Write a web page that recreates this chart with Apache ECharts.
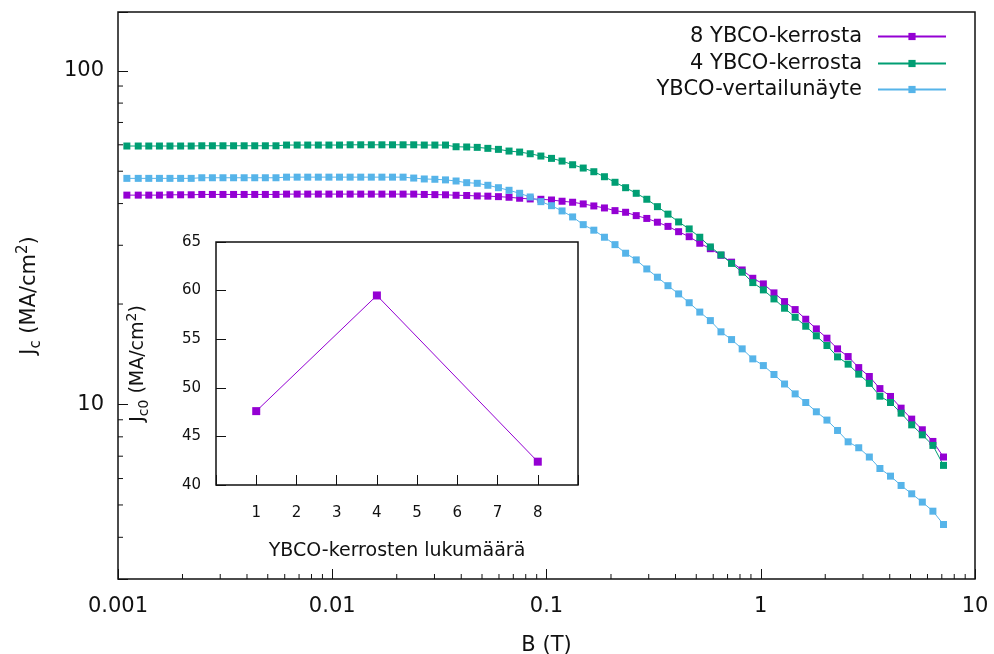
<!DOCTYPE html>
<html>
<head>
<meta charset="utf-8">
<script src="https://cdn.jsdelivr.net/npm/echarts@6/dist/echarts.min.js"></script>
<style>html,body{margin:0;padding:0;background:#fff}#c{width:994px;height:654px}</style>
</head>
<body>
<div id="c"></div>
<script>
// ---- data ----
const fieldB = [0.0011, 0.001243, 0.001392, 0.001561, 0.001748, 0.00196, 0.002196, 0.002461, 0.002758, 0.00309,
  0.003463, 0.00388, 0.004347, 0.004873, 0.005462, 0.006119, 0.006858, 0.007684, 0.008611, 0.009649,
  0.01081, 0.01212, 0.01358, 0.01522, 0.01705, 0.01911, 0.02141, 0.024, 0.02689, 0.03013,
  0.03377, 0.03784, 0.04241, 0.04751, 0.05325, 0.05966, 0.06686, 0.07492, 0.08395, 0.09412,
  0.1055, 0.1182, 0.1324, 0.1484, 0.1663, 0.1864, 0.2088, 0.234, 0.2623, 0.2939,
  0.3294, 0.369, 0.4136, 0.4634, 0.5193, 0.5819, 0.6522, 0.7308, 0.819, 0.918,
  1.0285, 1.1527, 1.2914, 1.4473, 1.6218, 1.8176, 2.037, 2.2825, 2.558, 2.8662,
  3.2122, 3.599, 4.0336, 4.5195, 5.0645, 5.677, 6.3607, 7.1285];

const jc8layers = [42.4, 42.4, 42.4, 42.4, 42.5, 42.5, 42.5, 42.6, 42.6, 42.6,
  42.6, 42.6, 42.6, 42.6, 42.6, 42.7, 42.7, 42.7, 42.7, 42.7,
  42.7, 42.7, 42.7, 42.7, 42.7, 42.7, 42.7, 42.7, 42.6, 42.55,
  42.5, 42.36, 42.3, 42.16, 42.1, 41.96, 41.78, 41.5, 41.3, 41.2,
  41.0, 40.65, 40.37, 39.9, 39.35, 38.81, 38.1, 37.67, 36.81, 36.1,
  35.17, 34.17, 32.95, 31.83, 30.42, 29.3, 28.0, 26.7, 25.3, 23.89,
  22.98, 21.6, 20.34, 19.25, 18.01, 16.85, 15.8, 14.68, 13.92, 12.9,
  12.13, 11.16, 10.57, 9.75, 9.04, 8.4, 7.75, 6.96];

const jc4layers = [59.5, 59.5, 59.5, 59.5, 59.5, 59.5, 59.5, 59.6, 59.6, 59.6,
  59.6, 59.6, 59.6, 59.6, 59.6, 59.9, 59.9, 59.9, 59.9, 59.9,
  59.9, 60.0, 60.0, 60.0, 60.0, 60.0, 60.0, 60.0, 59.9, 59.9,
  59.9, 59.2, 59.1, 58.95, 58.55, 58.14, 57.47, 57.07, 56.41, 55.52,
  54.64, 53.63, 52.29, 51.11, 49.83, 48.14, 46.33, 44.63, 42.94, 41.21,
  39.16, 37.19, 35.24, 33.58, 31.71, 29.66, 28.07, 26.47, 24.91, 23.19,
  22.05, 20.72, 19.43, 18.26, 17.16, 16.06, 15.02, 13.89, 13.21, 12.33,
  11.57, 10.59, 10.14, 9.42, 8.69, 8.11, 7.54, 6.57];

const jcReference = [47.6, 47.6, 47.6, 47.6, 47.6, 47.6, 47.6, 47.8, 47.8, 47.8,
  47.8, 47.8, 47.8, 47.8, 47.8, 48.0, 48.0, 48.0, 48.0, 48.0,
  48.0, 48.0, 48.0, 48.0, 48.0, 48.0, 48.0, 47.7, 47.4, 47.3,
  47.1, 46.74, 46.2, 46.01, 45.38, 44.63, 43.84, 42.94, 41.86, 40.53,
  39.42, 38.02, 36.48, 34.59, 33.29, 31.71, 30.13, 28.4, 27.12, 25.48,
  24.07, 22.7, 21.45, 20.18, 18.92, 17.84, 16.51, 15.65, 14.68, 13.7,
  13.08, 12.3, 11.52, 10.76, 10.14, 9.51, 8.98, 8.36, 7.73, 7.42,
  6.96, 6.43, 6.1, 5.72, 5.4, 5.1, 4.79, 4.37];

const seriesNames = ['8 YBCO-kerrosta', '4 YBCO-kerrosta', 'YBCO-vertailunäyte'];

// inset
const layerCounts = [1, 4, 8];
const jc0Values = [47.6, 59.5, 42.4];

// tick labels
const xTickLabels = ['0.001', '0.01', '0.1', '1', '10'];   // 10^-3 .. 10^1
const yTickLabels = ['10', '100'];                           // 10^1 .. 10^2
const xMinorTicks = [0.002, 0.003, 0.004, 0.005, 0.006, 0.007, 0.008, 0.009,
  0.02, 0.03, 0.04, 0.05, 0.06, 0.07, 0.08, 0.09,
  0.2, 0.3, 0.4, 0.5, 0.6, 0.7, 0.8, 0.9,
  2, 3, 4, 5, 6, 7, 8, 9];
const yMinorTicks = [4, 5, 6, 7, 8, 9, 20, 30, 40, 50, 60, 70, 80, 90];
const insetXTicks = ['1', '2', '3', '4', '5', '6', '7', '8'];

// ---- chart ----
const FONT = 'DejaVu Sans';
const INK = '#111';
const colors = ['#9400d3', '#009e73', '#56b4e9'];
const X_MIN = 0.001, X_MAX = 10, Y_MIN = 3, Y_MAX = 150;

function decadeLabel(v, labels, firstExp) {
  const l = Math.log10(v);
  const e = Math.round(l);
  if (Math.abs(l - e) > 1e-6) return '';
  const s = labels[e - firstExp];
  return s === undefined ? '' : s;
}

function minorTickSeries(values, isX) {
  return {
    type: 'custom', xAxisIndex: 0, yAxisIndex: 0, silent: true, clip: false, z: 10,
    data: values.map(v => isX ? [v, Y_MIN] : [X_MIN, v]),
    renderItem: (params, api) => {
      const p = api.coord([api.value(0), api.value(1)]);
      const shape = isX ? { x1: p[0], y1: p[1], x2: p[0], y2: p[1] - 5 }
                        : { x1: p[0], y1: p[1], x2: p[0] + 5, y2: p[1] };
      return { type: 'line', shape, style: { stroke: INK, lineWidth: 1 } };
    }
  };
}

function curve(name, ys, color) {
  return {
    name, type: 'line', xAxisIndex: 0, yAxisIndex: 0,
    data: fieldB.map((x, i) => [x, ys[i]]),
    symbol: 'rect', symbolSize: 7,
    lineStyle: { width: 1, color }, itemStyle: { color },
    emphasis: { disabled: true }
  };
}

const richMain = {
  j: { fontSize: 21, fontFamily: FONT, color: INK, lineHeight: 28 },
  sub: { fontSize: 15, fontFamily: FONT, color: INK, lineHeight: 15, verticalAlign: 'bottom' },
  sup: { fontSize: 15, fontFamily: FONT, color: INK, lineHeight: 15, verticalAlign: 'top' }
};
const richInset = {
  j: { fontSize: 19, fontFamily: FONT, color: INK, lineHeight: 26 },
  sub: { fontSize: 14, fontFamily: FONT, color: INK, lineHeight: 14, verticalAlign: 'bottom' },
  sup: { fontSize: 14, fontFamily: FONT, color: INK, lineHeight: 14, verticalAlign: 'top' }
};

const legendTops = [26, 53, 79];

const option = {
  backgroundColor: '#fff',
  animation: false,
  textStyle: { fontFamily: FONT },
  grid: [
    { left: 118, top: 12, right: 19, bottom: 75, show: true, borderColor: INK, borderWidth: 1.5,
      backgroundColor: 'transparent', containLabel: false, outerBoundsMode: 'none' },
    { left: 216, top: 242, width: 362, height: 243, show: true, borderColor: INK, borderWidth: 1.5,
      backgroundColor: '#fff', containLabel: false, outerBoundsMode: 'none' }
  ],
  legend: seriesNames.map((n, i) => ({
    data: [n], right: 47, top: legendTops[i], padding: 0, orient: 'vertical', align: 'right',
    itemWidth: 68, itemHeight: 9, selectedMode: false,
    textStyle: { fontSize: 21, fontFamily: FONT, color: INK, padding: [0, 11, 0, 0] }
  })),
  xAxis: [
    {
      type: 'log', logBase: 10, min: X_MIN, max: X_MAX, gridIndex: 0,
      axisLine: { show: false }, splitLine: { show: false },
      axisTick: { inside: true, length: 10, lineStyle: { color: INK, width: 1 } },
      axisLabel: { fontSize: 21, fontFamily: FONT, color: INK, margin: 17,
        formatter: v => decadeLabel(v, xTickLabels, -3) },
      name: 'B (T)', nameLocation: 'middle', nameGap: 56,
      nameTextStyle: { fontSize: 21, fontFamily: FONT, color: INK }
    },
    {
      type: 'value', min: 0, max: 9, interval: 1, gridIndex: 1,
      axisLine: { show: false }, splitLine: { show: false },
      axisTick: { inside: true, length: 10, lineStyle: { color: INK, width: 1 } },
      axisLabel: { fontSize: 15, fontFamily: FONT, color: INK, margin: 21,
        formatter: v => (v >= 1 && v <= 8) ? insetXTicks[v - 1] : '' },
      name: 'YBCO-kerrosten lukumäärä', nameLocation: 'middle', nameGap: 57,
      nameTextStyle: { fontSize: 19, fontFamily: FONT, color: INK }
    }
  ],
  yAxis: [
    {
      type: 'log', logBase: 10, min: Y_MIN, max: Y_MAX, gridIndex: 0,
      axisLine: { show: false }, splitLine: { show: false },
      axisTick: { inside: true, length: 10, lineStyle: { color: INK, width: 1 } },
      axisLabel: { fontSize: 21, fontFamily: FONT, color: INK, margin: 14,
        formatter: v => decadeLabel(v, yTickLabels, 1) },
      name: '{j|J}{sub|c}{j| (MA/cm}{sup|2}{j|)}', nameLocation: 'middle', nameGap: 74, nameRotate: 90,
      nameTextStyle: { rich: richMain }
    },
    {
      type: 'value', min: 40, max: 65, interval: 5, gridIndex: 1,
      axisLine: { show: false }, splitLine: { show: false },
      axisTick: { inside: true, length: 10, lineStyle: { color: INK, width: 1 } },
      axisLabel: { fontSize: 15, fontFamily: FONT, color: INK, margin: 15 },
      name: '{j|J}{sub|c0}{j| (MA/cm}{sup|2}{j|)}', nameLocation: 'middle', nameGap: 65, nameRotate: 90,
      nameTextStyle: { rich: richInset }
    }
  ],
  series: [
    curve(seriesNames[0], jc8layers, colors[0]),
    curve(seriesNames[1], jc4layers, colors[1]),
    curve(seriesNames[2], jcReference, colors[2]),
    minorTickSeries(xMinorTicks, true),
    minorTickSeries(yMinorTicks, false),
    {
      type: 'line', xAxisIndex: 1, yAxisIndex: 1,
      data: layerCounts.map((n, i) => [n, jc0Values[i]]),
      symbol: 'rect', symbolSize: 8,
      lineStyle: { width: 1, color: colors[0] }, itemStyle: { color: colors[0] },
      emphasis: { disabled: true }
    }
  ]
};

const chart = echarts.init(document.getElementById('c'), null, { renderer: 'canvas' });
chart.setOption(option);
</script>
</body>
</html>
